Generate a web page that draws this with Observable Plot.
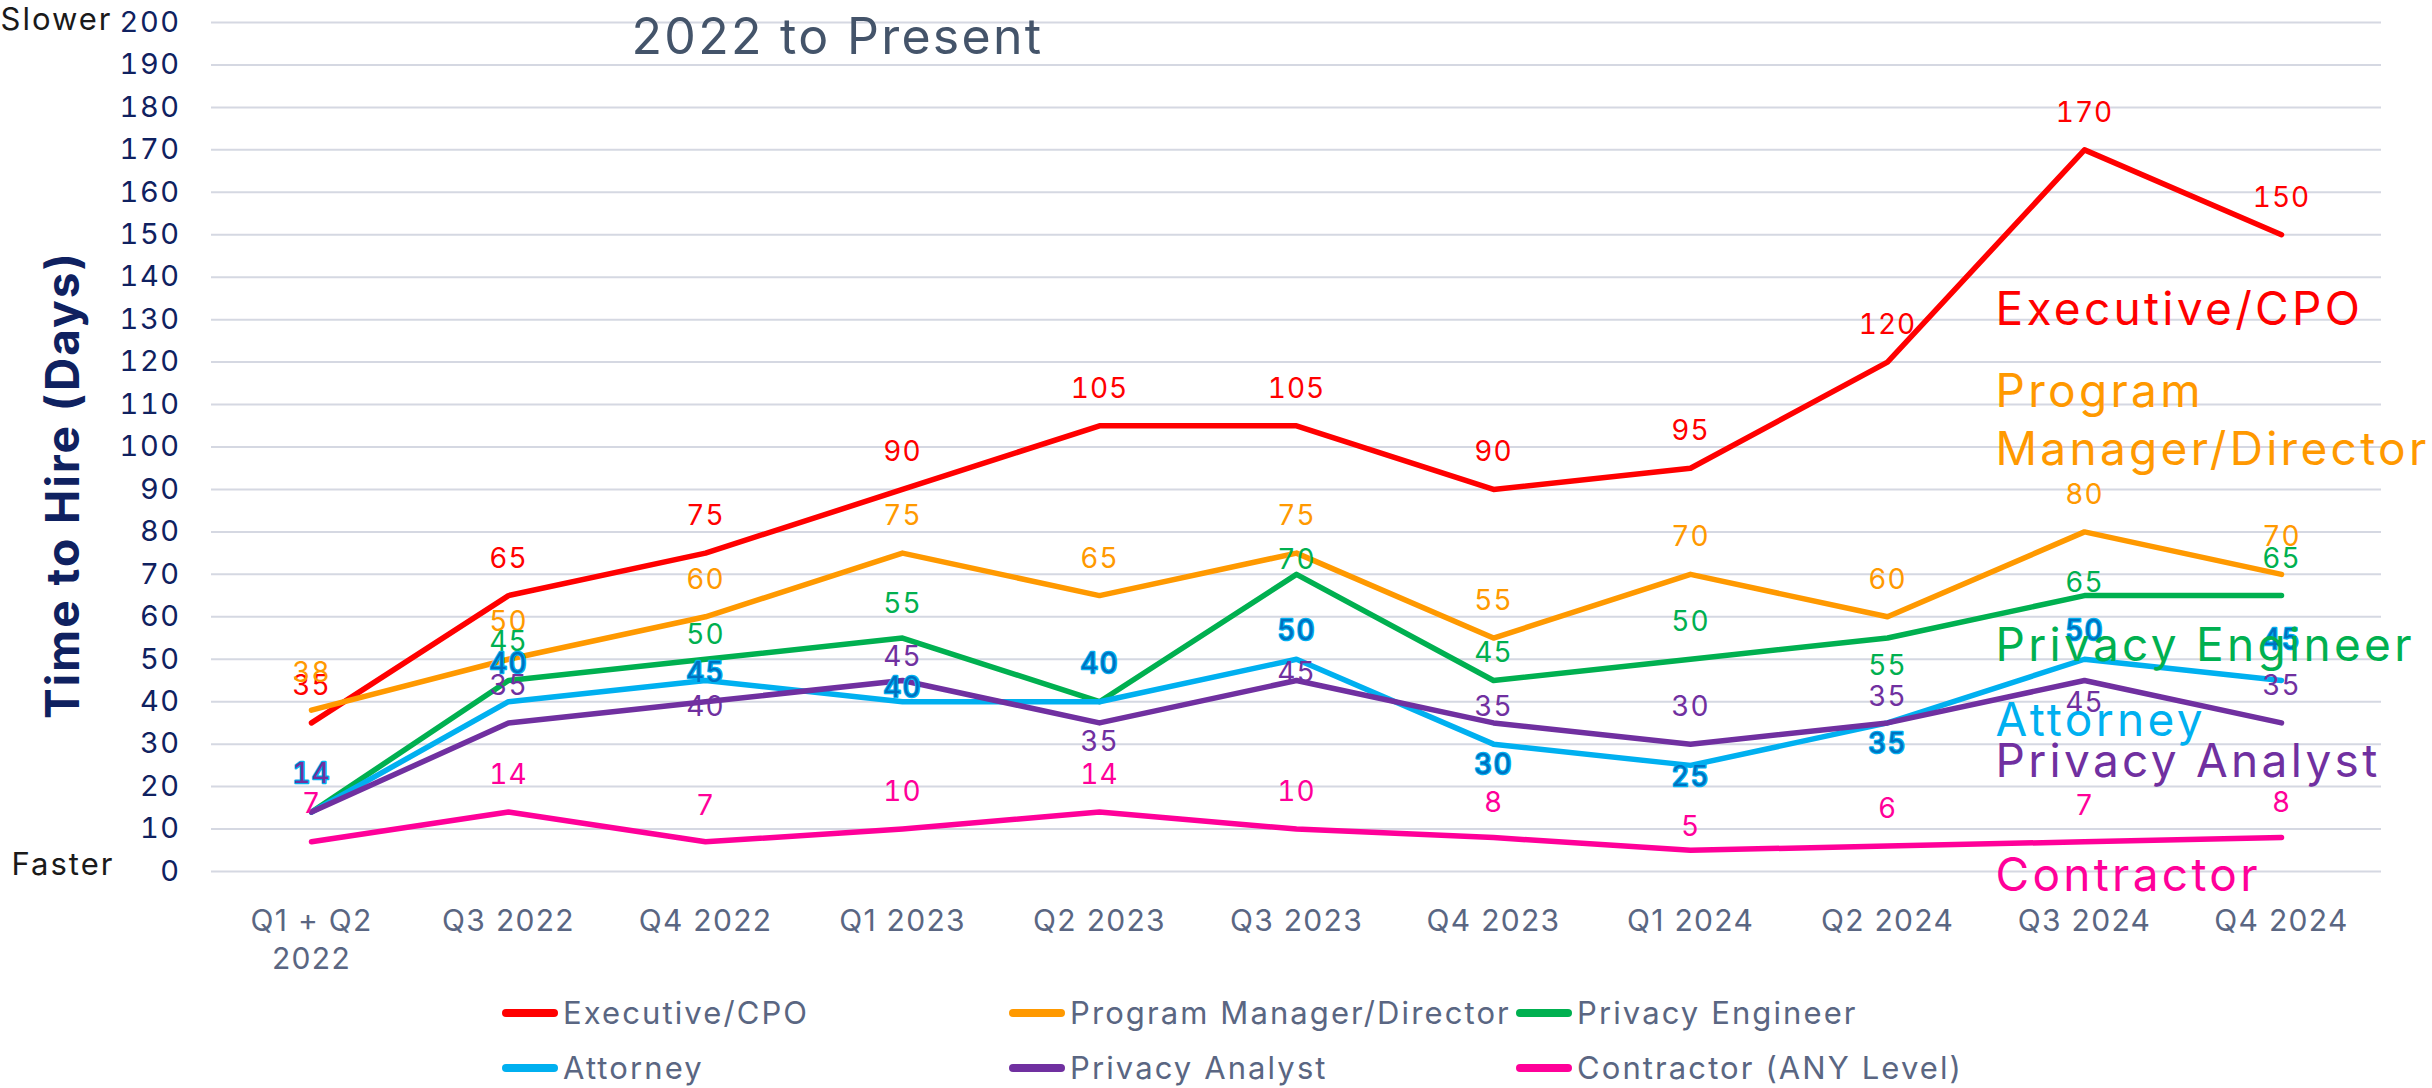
<!DOCTYPE html>
<html>
<head>
<meta charset="utf-8">
<script src="https://cdn.jsdelivr.net/npm/d3@7"></script>
<script src="https://cdn.jsdelivr.net/npm/@observablehq/plot@0.6"></script>
<style>
  html, body { margin: 0; padding: 0; background: #ffffff; }
  #wrap { position: relative; width: 2432px; height: 1088px; font-family: Inter, "Open Sans", sans-serif; }
  #chart svg { display: block; }
  #legend { position: absolute; left: 502px; top: 985px; display: grid;
            grid-template-columns: 507px 507px 507px; grid-auto-rows: 55px; }
  .item { display: flex; align-items: center; font-size: 31px; letter-spacing: 2.1px; color: #5a6682; white-space: nowrap; }
  .sw { width: 56px; height: 8px; border-radius: 4px; margin-right: 5px; flex: none; }
  text[aria-label="data-label"] { font-variant-numeric: tabular-nums; letter-spacing: 1px; }
  g[aria-label="x-axis tick label"] text { letter-spacing: 1.3px; }
  g[aria-label="y-axis tick label"] text { letter-spacing: 1.5px; }
  text[aria-label="direct-label"] { letter-spacing: 3.3px; }
  text[aria-label="title"] { letter-spacing: 2.3px; }
  text[aria-label="y-title"] { letter-spacing: 2px; }
  text[aria-label="side-note"] { letter-spacing: 2px; }
</style>
</head>
<body>
<div id="wrap">
  <div id="chart"></div>
  <div id="legend"></div>
</div>
<script>
// ---- data ----
const quarters = ["Q1 + Q2\n2022", "Q3 2022", "Q4 2022", "Q1 2023", "Q2 2023", "Q3 2023",
                  "Q4 2023", "Q1 2024", "Q2 2024", "Q3 2024", "Q4 2024"];
const series = ["Executive/CPO", "Program Manager/Director", "Privacy Engineer",
                "Attorney", "Privacy Analyst", "Contractor (ANY Level)"];
const executiveCPO    = [35, 65, 75, 90, 105, 105, 90, 95, 120, 170, 150];
const programManager  = [38, 50, 60, 75, 65, 75, 55, 70, 60, 80, 70];
const privacyEngineer = [14, 45, 50, 55, 40, 70, 45, 50, 55, 65, 65];
const attorney        = [14, 40, 45, 40, 40, 50, 30, 25, 35, 50, 45];
const privacyAnalyst  = [14, 35, 40, 45, 35, 45, 35, 30, 35, 45, 35];
const contractor      = [7, 14, 7, 10, 14, 10, 8, 5, 6, 7, 8];
const yTicks = d3.range(0, 201, 10);

// direct labels on the right (text, value-level where they sit)
const directLabels = ["Executive/CPO", "Program\nManager/Director", "Privacy Engineer",
                      "Attorney", "Privacy Analyst", "Contractor"];
const directLabelLevel = [133, 107, 54, 36.2, 26.7, -0.3];

// ---- styles ----
const lineColors  = ["#ff0000", "#ff9900", "#00b050", "#00b0f0", "#7030a0", "#ff0099"];
const labelColors = ["#ff0000", "#ff9900", "#00b050", "#0070c0", "#7030a0", "#ff0099"];
// vertical offset (px) of each data label from its point
const labelDy = [
  [-37, -37, -37, -37, -37, -37, -37, -37, -37, -37, -37],
  [-37, -37, -37, -37, -37, -37, -37, -37, -37, -37, -37],
  [-38, -38, -24, -34, -38, -14, -27, -37,  28, -13, -37],
  [-38, -38,  -7, -14, -38, -28,  21,  12,  21, -28, -40],
  [-38, -37,   5, -23,  19,  -7, -16, -37, -26,  23, -37],
  [-38, -37, -36, -37, -37, -37, -35, -23, -37, -36, -35]
];

const values = [executiveCPO, programManager, privacyEngineer, attorney, privacyAnalyst, contractor];
const rows = series.flatMap((s, i) => values[i].map((v, j) => ({series: s, si: i, quarter: quarters[j], value: v, dy: labelDy[i][j]})));

const tag = (name) => () => name;

const labelMarks = [];
series.forEach((s, i) => {
  const offs = Array.from(new Set(labelDy[i]));
  offs.forEach(off => {
    labelMarks.push(Plot.text(rows.filter(d => d.si === i && d.dy === off), {
      x: "quarter", y: "value", text: d => String(d.value), dy: off,
      fontSize: 28, fill: labelColors[i], lineAnchor: "middle", ariaLabel: tag("data-label"),
      ...(i === 3 ? {stroke: "#00b0f0", strokeWidth: 2.5, paintOrder: "stroke"} : {})
    }));
  });
});

const dl = directLabels.map((t, i) => ({t, level: directLabelLevel[i], c: lineColors[i]}));

const chart = Plot.plot({
  width: 2432, height: 985,
  marginLeft: 211, marginRight: 51, marginTop: 22, marginBottom: 114,
  style: {fontFamily: "Inter, 'Open Sans', sans-serif", background: "#ffffff", overflow: "visible"},
  x: {type: "point", domain: quarters, padding: 0.5},
  y: {domain: [0, 200]},
  color: {domain: series, range: lineColors},
  marks: [
    Plot.gridY(yTicks, {stroke: "#d5d8e2", strokeOpacity: 1, strokeWidth: 2}),
    Plot.axisY(yTicks, {tickSize: 0, tickPadding: 31, fontSize: 29, fill: "#0f2160", label: null}),
    Plot.axisX({tickSize: 0, tickPadding: 32, fontSize: 30, fill: "#5a6682", label: null, lineHeight: 1.27}),
    Plot.lineY(rows, {x: "quarter", y: "value", z: "series", stroke: "series",
      strokeWidth: 5.5, strokeLinecap: "round", strokeLinejoin: "round"}),
    ...labelMarks,
    Plot.text(dl, {y: "level", text: "t", fill: "c", frameAnchor: "right", dx: -386,
      textAnchor: "start", lineAnchor: "middle", fontSize: 46, lineHeight: 1.26, ariaLabel: tag("direct-label")}),
    Plot.text(["Time to Hire (Days)"], {frameAnchor: "left", dx: -147, dy: 38, rotate: -90,
      textAnchor: "middle", fontSize: 46, fontWeight: 700, fill: "#0f2160", lineAnchor: "middle", ariaLabel: tag("y-title")}),
    Plot.text(["2022 to Present"], {frameAnchor: "top-left", dx: 420, dy: 15,
      textAnchor: "start", lineAnchor: "middle", fontSize: 50, fill: "#44546a", ariaLabel: tag("title")}),
    Plot.text(["Slower"], {frameAnchor: "top-left", dx: -211, dy: -2,
      textAnchor: "start", lineAnchor: "middle", fontSize: 31, fill: "#1a1a1a", ariaLabel: tag("side-note")}),
    Plot.text(["Faster"], {frameAnchor: "bottom-left", dx: -200, dy: -6,
      textAnchor: "start", lineAnchor: "middle", fontSize: 31, fill: "#1a1a1a", ariaLabel: tag("side-note")})
  ]
});
document.getElementById("chart").appendChild(chart);

// legend (HTML below the SVG)
const legend = document.getElementById("legend");
series.forEach((s, i) => {
  const it = document.createElement("div");
  it.className = "item";
  const sw = document.createElement("span");
  sw.className = "sw";
  sw.style.background = lineColors[i];
  it.appendChild(sw);
  it.appendChild(document.createTextNode(s));
  legend.appendChild(it);
});
</script>
</body>
</html>
